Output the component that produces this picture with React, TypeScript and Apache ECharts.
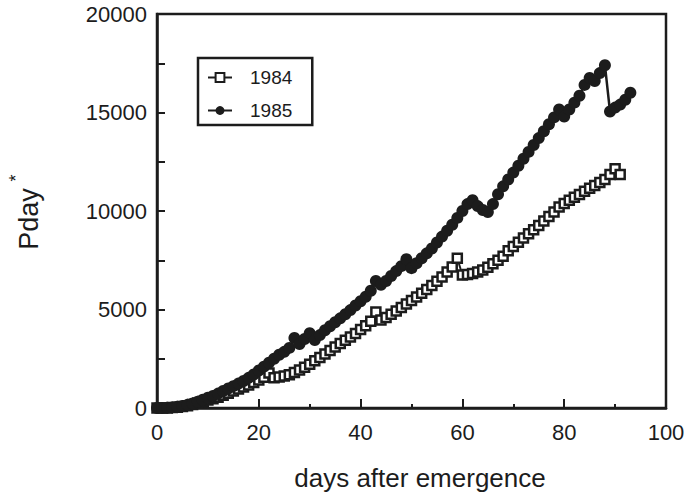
import React, { useEffect, useRef } from "react";
import * as echarts from "echarts";

// 1984 values, one per day from day 0
const values1984: number[] = [
  0, 0, 0, 20, 40, 70, 120, 180, 260, 330,
  400, 470, 550, 650, 750, 860, 970, 1070, 1170, 1290,
  1420, 1560, 1780, 1540, 1570, 1620, 1690, 1800, 1930, 2070,
  2220, 2400, 2560, 2740, 2920, 3100, 3270, 3440, 3610, 3780,
  3980, 4180, 4400, 4870, 4470, 4600, 4760, 4920, 5100, 5280,
  5460, 5640, 5830, 6020, 6220, 6430, 6650, 6900, 7160, 7600,
  6750, 6780, 6830, 6900, 7000, 7150, 7320, 7500, 7700, 7980,
  8200, 8420, 8630, 8840, 9050, 9270, 9490, 9720, 9950, 10200,
  10380, 10550, 10700, 10840, 11000, 11150, 11300, 11450, 11600, 11850,
  12150, 11850,
];

// 1985 values, one per day from day 0
const values1985: number[] = [
  0, 0, 10, 30, 60, 100, 160, 230, 320, 420,
  520, 610, 730, 860, 990, 1110, 1240, 1370, 1530, 1700,
  1900, 2100, 2300, 2500, 2700, 2850, 3050, 3550, 3250, 3500,
  3800, 3450, 3700, 3950, 4150, 4350, 4550, 4760, 4970, 5200,
  5420, 5650, 5950, 6450, 6250, 6450, 6700, 6950, 7200, 7550,
  7100, 7350, 7600, 7850, 8100, 8400, 8700, 9000, 9300, 9650,
  10000, 10350, 10550, 10250, 10050, 9950, 10350, 10850, 11250, 11600,
  11950, 12300, 12650, 13000, 13350, 13700, 14050, 14400, 14750, 15150,
  14800, 15150, 15500, 15850, 16400, 16750, 16600, 17000, 17400, 15050,
  15250, 15400, 15650, 16000,
];

const xTicks = { min: 0, max: 100, interval: 20 };
const yTicks = { min: 0, max: 20000, interval: 5000 };

const INK = "#1c1c1c";
const FONT = "'Liberation Sans', Arial, Helvetica, sans-serif";

export default function App() {
  const ref = useRef<HTMLDivElement>(null);
  useEffect(() => {
    if (!ref.current) return;
    const chart = echarts.init(ref.current, undefined, { renderer: "svg" });
    const d84 = values1984.map((v, i) => [i, v]);
    const d85 = values1985.map((v, i) => [i, v]);
    chart.setOption({
      animation: false,
      backgroundColor: "#fff",
      grid: {
        left: 157,
        right: 32,
        top: 14,
        bottom: 86,
        show: true,
        borderColor: INK,
        borderWidth: 2.5,
      },
      xAxis: {
        type: "value",
        min: xTicks.min,
        max: xTicks.max,
        interval: xTicks.interval,
        axisLine: { show: true, lineStyle: { color: INK, width: 2.5 } },
        axisTick: { show: true, inside: true, length: 9, lineStyle: { color: INK, width: 2 } },
        minorTick: { show: true, splitNumber: 2, length: 4, lineStyle: { color: INK, width: 2 } },
        splitLine: { show: false },
        axisLabel: {
          color: INK,
          fontSize: 22,
          fontFamily: FONT,
          margin: 13,
          formatter: (v: number) => String(v),
        },
      },
      yAxis: {
        type: "value",
        min: yTicks.min,
        max: yTicks.max,
        interval: yTicks.interval,
        axisLine: { show: true, lineStyle: { color: INK, width: 2.5 } },
        axisTick: { show: true, inside: true, length: 8, lineStyle: { color: INK, width: 2 } },
        minorTick: { show: true, splitNumber: 2, length: 8, lineStyle: { color: INK, width: 2 } },
        splitLine: { show: false },
        axisLabel: {
          color: INK,
          fontSize: 22,
          fontFamily: FONT,
          margin: 10,
          formatter: (v: number) => String(v),
        },
      },
      legend: {
        orient: "vertical",
        left: 198,
        top: 58,
        padding: [10, 20, 5, 9],
        itemGap: 14,
        itemWidth: 24,
        itemHeight: 11,
        borderColor: INK,
        borderWidth: 2.5,
        textStyle: { color: INK, fontSize: 19, fontFamily: FONT, padding: [0, 0, 0, 13] },
        data: ["1984", "1985"],
      },
      series: [
        {
          name: "1984",
          type: "line",
          data: d84,
          symbol: "rect",
          symbolSize: 9,
          lineStyle: { color: INK, width: 2 },
          itemStyle: { color: "#fff", borderColor: INK, borderWidth: 2.5 },
          z: 3,
        },
        {
          name: "1985",
          type: "line",
          data: d85,
          symbol: "circle",
          symbolSize: 12,
          lineStyle: { color: INK, width: 2.5 },
          itemStyle: { color: INK, borderColor: INK, borderWidth: 0 },
          z: 4,
        },
      ],
      graphic: [
        {
          type: "text",
          x: 420,
          y: 478,
          style: {
            text: "days after emergence",
            fill: INK,
            fontSize: 26,
            fontFamily: FONT,
            align: "center",
            verticalAlign: "middle",
          },
        },
        {
          type: "text",
          x: 29,
          y: 219,
          rotation: Math.PI / 2,
          style: {
            text: "Pday",
            fill: INK,
            fontSize: 27,
            fontFamily: FONT,
            align: "center",
            verticalAlign: "middle",
          },
        },
        {
          type: "text",
          x: 16,
          y: 178,
          rotation: Math.PI / 2,
          style: {
            text: "*",
            fill: INK,
            fontSize: 18,
            fontFamily: FONT,
            align: "center",
            verticalAlign: "middle",
          },
        },
      ],
    });
    return () => chart.dispose();
  }, []);
  return (
    <div
      ref={ref}
      style={{ position: "fixed", left: 0, top: 0, width: 698, height: 494, background: "#fff" }}
    />
  );
}
